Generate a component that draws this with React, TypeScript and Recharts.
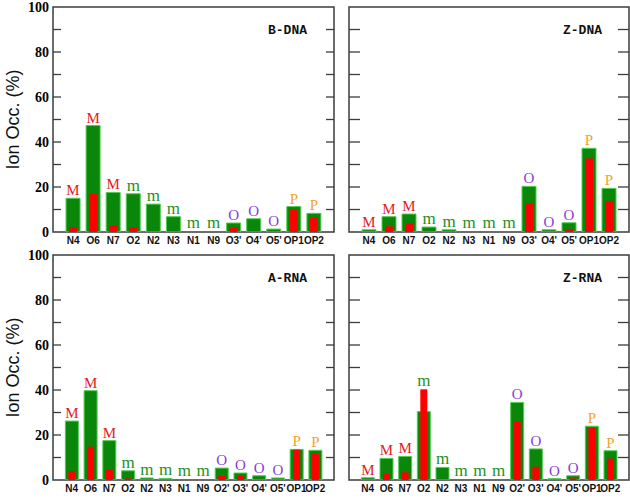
import React from "react";
import { BarChart, Bar, XAxis, YAxis, ReferenceArea, LabelList, Label } from "recharts";

// binding sites on the x axis
const dnaSites = ["N4", "O6", "N7", "O2", "N2", "N3", "N1", "N9", "O3'", "O4'", "O5'", "OP1", "OP2"];
const rnaSites = ["N4", "O6", "N7", "O2", "N2", "N3", "N1", "N9", "O2'", "O3'", "O4'", "O5'", "OP1", "OP2"];

// site class letter drawn above each bar
const dnaTags = ["M", "M", "M", "m", "m", "m", "m", "m", "O", "O", "O", "P", "P"];
const rnaTags = ["M", "M", "M", "m", "m", "m", "m", "m", "O", "O", "O", "O", "P", "P"];

// green = total occupancy, red = inner-shell occupancy (%)
const bdnaTotal = [15, 47.3, 17.6, 17, 12.4, 6.8, 0, 0, 4, 5.9, 1.3, 11.3, 8.3];
const bdnaInner = [2, 17, 3, 2, 0, 0, 0, 0, 2, 0, 0, 10, 6.5];
const zdnaTotal = [1, 6.8, 8, 2.2, 1, 0, 0, 0, 20.3, 1, 4.1, 37.2, 19.4];
const zdnaInner = [0, 2.5, 3.9, 0, 0, 0, 0, 0, 12.7, 0, 1.3, 32.7, 13.8];
const arnaTotal = [26.2, 39.7, 17.5, 4.1, 0.9, 0.7, 0, 0, 5.3, 3.1, 1.9, 0.9, 13.6, 13.2];
const arnaInner = [4, 14.8, 4.6, 0.7, 0, 0, 0, 0, 1.8, 1.8, 0, 0, 13.5, 11.7];
const zrnaTotal = [1, 9.6, 10.5, 30.4, 5.6, 0, 0, 0, 34.5, 13.8, 0.6, 1.9, 23.9, 13];
const zrnaInner = [0, 2.8, 3.4, 40.3, 0, 0, 0, 0, 25.9, 5.9, 0, 0.7, 23.1, 9.5];

// every 10 gets an inward tick, every 20 a number
const yTicks = [0, 10, 20, 30, 40, 50, 60, 70, 80, 90, 100];

const tagColor: Record<string, string> = {
  M: "#e41a1c",
  m: "#1e8f1e",
  O: "#8a3bd6",
  P: "#f2a32e",
};

const frameColor = "#3c3c3c";

function renderTag(props: any) {
  const { x, y, width, value } = props;
  if (value == null) return null;
  return (
    <text
      x={Number(x) + Number(width) / 2}
      y={Number(y) - 3}
      textAnchor="middle"
      fill={tagColor[value]}
      fontFamily="Liberation Serif"
      fontSize={value === "m" ? 17 : 15}
    >
      {value}
    </text>
  );
}

function renderYTitle(props: any) {
  const vb = props.viewBox;
  const cx = vb.x + 13;
  const cy = vb.y + vb.height / 2;
  return (
    <text
      x={cx}
      y={cy}
      transform={`rotate(-90 ${cx} ${cy})`}
      textAnchor="middle"
      dominantBaseline="central"
      fontFamily="Liberation Sans"
      fontSize={18}
      fill="#111"
    >
      Ion Occ. (%)
    </text>
  );
}

// left axis tick: inward mark at the frame, number outside (left panels only)
function leftTick(tickPx: number, showNumbers: boolean) {
  return (props: any) => {
    const x = Number(props.x);
    const y = Number(props.y);
    const v = Number(props.payload?.value);
    const inner = v > 0 && v < 100;
    return (
      <g>
        {inner && <line x1={x} x2={x + tickPx} y1={y} y2={y} stroke={frameColor} strokeWidth={1.3} />}
        {showNumbers && v % 20 === 0 && (
          <text
            x={x - 4}
            y={y}
            textAnchor="end"
            dominantBaseline="central"
            fontFamily="Liberation Serif"
            fontWeight="bold"
            fontSize={14}
            fill="#000"
          >
            {v}
          </text>
        )}
      </g>
    );
  };
}

function rightTick(tickPx: number) {
  return (props: any) => {
    const x = Number(props.x);
    const y = Number(props.y);
    const v = Number(props.payload?.value);
    if (!(v > 0 && v < 100)) return <g />;
    return <line x1={x - tickPx} x2={x} y1={y} y2={y} stroke={frameColor} strokeWidth={1.3} />;
  };
}

type PanelProps = {
  title: string;
  sites: string[];
  tags: string[];
  total: number[];
  inner: number[];
  left: number;
  top: number;
  showY: boolean;
};

function Panel({ title, sites, tags, total, inner, left, top, showY }: PanelProps) {
  const n = sites.length;
  const rows = sites.map((s, i) => ({
    x: i + 1,
    name: s,
    total: total[i],
    inner: inner[i],
    peak: Math.max(total[i], inner[i]),
    tag: tags[i],
  }));
  const xTicks = rows.map((r) => r.x);
  const xMax = n + 1;
  const domain: [number, number] = [0, xMax];
  const width = showY ? 340 : 290;
  const margin = showY
    ? { top: 7, right: 5, bottom: 0, left: 0 }
    : { top: 7, right: 0, bottom: 0, left: 8 };
  const greenW = n > 13 ? 13 : 14;
  const redW = n > 13 ? 7 : 8;
  const tickPx = showY ? 8 : 11;

  const renderTitle = (p: any) => {
    const vb = p.viewBox;
    return (
      <text
        x={vb.x + vb.width - 27}
        y={vb.y + 27}
        textAnchor="end"
        fontFamily="Liberation Mono"
        fontWeight="bold"
        fontSize={13}
        fill="#111"
      >
        {title}
      </text>
    );
  };

  return (
    <div style={{ position: "absolute", left, top }}>
      <BarChart width={width} height={250} data={rows} margin={margin}>
        <XAxis
          xAxisId="g"
          dataKey="x"
          type="number"
          domain={domain}
          allowDataOverflow
          ticks={xTicks}
          interval={0}
          tickFormatter={(v) => sites[Number(v) - 1] ?? ""}
          height={18}
          axisLine={false}
          tickLine={false}
          tickSize={0}
          tickMargin={5}
          tick={{ fontFamily: "Liberation Sans", fontWeight: "bold", fontSize: 10, fill: "#111" }}
        />
        <XAxis xAxisId="r" dataKey="x" type="number" domain={domain} allowDataOverflow hide />
        <XAxis xAxisId="t" dataKey="x" type="number" domain={domain} allowDataOverflow hide />
        <YAxis
          yAxisId="lab"
          type="number"
          orientation="left"
          domain={[0, 100]}
          allowDataOverflow
          ticks={yTicks}
          interval={0}
          width={showY ? 53 : 1}
          axisLine={false}
          tickLine={false}
          tickSize={0}
          tickMargin={0}
          tick={leftTick(tickPx, showY)}
        >
          {showY && <Label content={renderYTitle} />}
        </YAxis>
        <YAxis
          yAxisId="rt"
          type="number"
          orientation="right"
          domain={[0, 100]}
          allowDataOverflow
          ticks={yTicks}
          interval={0}
          width={1}
          axisLine={false}
          tickLine={false}
          tickSize={0}
          tickMargin={0}
          tick={rightTick(tickPx)}
        />
        <YAxis yAxisId="yl" type="number" domain={[0, 100]} allowDataOverflow hide />
        <ReferenceArea
          xAxisId="g"
          yAxisId="lab"
          x1={0}
          x2={xMax}
          y1={0}
          y2={100}
          fill="none"
          fillOpacity={0}
          stroke={frameColor}
          strokeWidth={1.5}
          label={renderTitle}
        />
        <Bar
          xAxisId="g"
          yAxisId="lab"
          dataKey="total"
          barSize={greenW}
          fill="#0a870a"
          stroke="#52cc52"
          strokeWidth={1}
          isAnimationActive={false}
        />
        <Bar
          xAxisId="r"
          yAxisId="rt"
          dataKey="inner"
          barSize={redW}
          fill="#ff0000"
          isAnimationActive={false}
        />
        <Bar
          xAxisId="t"
          yAxisId="yl"
          dataKey="peak"
          barSize={greenW}
          minPointSize={1}
          fill="none"
          isAnimationActive={false}
        >
          <LabelList dataKey="tag" content={renderTag} />
        </Bar>
      </BarChart>
    </div>
  );
}

export default function App() {
  return (
    <div
      style={{
        position: "absolute",
        left: 0,
        top: 0,
        width: 630,
        height: 498,
        background: "#fff",
      }}
    >
      <Panel title="B-DNA" sites={dnaSites} tags={dnaTags} total={bdnaTotal} inner={bdnaInner} left={0} top={0} showY />
      <Panel title="Z-DNA" sites={dnaSites} tags={dnaTags} total={zdnaTotal} inner={zdnaInner} left={340} top={0} showY={false} />
      <Panel title="A-RNA" sites={rnaSites} tags={rnaTags} total={arnaTotal} inner={arnaInner} left={0} top={248} showY />
      <Panel title="Z-RNA" sites={rnaSites} tags={rnaTags} total={zrnaTotal} inner={zrnaInner} left={340} top={248} showY={false} />
    </div>
  );
}
